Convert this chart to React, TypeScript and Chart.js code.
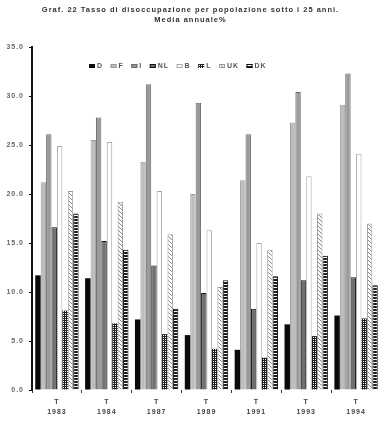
import React, { useEffect, useRef } from "react";
import { Chart, registerables } from "chart.js";

Chart.register(...registerables);

const titleLines = [
  "Graf. 22 Tasso di disoccupazione per popolazione sotto i 25 anni.",
  "Media annuale%",
];
const categories = [
  ["T", "1983"],
  ["T", "1984"],
  ["T", "1987"],
  ["T", "1989"],
  ["T", "1991"],
  ["T", "1993"],
  ["T", "1994"],
];
const seriesNames = ["D", "F", "I", "NL", "B", "L", "UK", "DK"];
const D = [11.7, 11.4, 7.2, 5.6, 4.1, 6.7, 7.6];
const F = [21.2, 25.5, 23.3, 20.0, 21.4, 27.3, 29.1];
const I = [26.1, 27.8, 31.2, 29.3, 26.1, 30.4, 32.3];
const NL = [16.6, 15.2, 12.7, 9.9, 8.3, 11.2, 11.5];
const B = [24.9, 25.3, 20.3, 16.3, 15.0, 21.8, 24.1];
const L = [8.1, 6.8, 5.7, 4.2, 3.3, 5.5, 7.3];
const UK = [20.3, 19.2, 15.9, 10.5, 14.3, 18.0, 17.0];
const DK = [18.0, 14.3, 8.3, 11.2, 11.6, 13.7, 10.7];
const seriesValues = [D, F, I, NL, B, L, UK, DK];
const yMin = 0;
const yMax = 35;
const yStep = 5;

const FONT = '"Liberation Sans", Arial, sans-serif';

function makePattern(
  ctx: CanvasRenderingContext2D,
  w: number,
  h: number,
  draw: (c: CanvasRenderingContext2D) => void
) {
  const tile = document.createElement("canvas");
  tile.width = w;
  tile.height = h;
  const tctx = tile.getContext("2d") as CanvasRenderingContext2D;
  draw(tctx);
  return ctx.createPattern(tile, "repeat") as CanvasPattern;
}

export default function App() {
  const ref = useRef<HTMLCanvasElement | null>(null);

  useEffect(() => {
    document.body.style.margin = "0";
    const canvas = ref.current;
    if (!canvas) return;
    const ctx = canvas.getContext("2d") as CanvasRenderingContext2D;

    const dotPattern = makePattern(ctx, 2, 2, (c) => {
      c.fillStyle = "#1e1e1e";
      c.fillRect(0, 0, 2, 2);
      c.fillStyle = "#ffffff";
      c.fillRect(1, 1, 1, 1);
    });
    const wavePattern = makePattern(ctx, 4, 4, (c) => {
      c.fillStyle = "#ffffff";
      c.fillRect(0, 0, 4, 4);
      c.fillStyle = "#8a8a8a";
      c.fillRect(0, 0, 1, 1);
      c.fillRect(1, 1, 1, 1);
      c.fillRect(2, 2, 1, 1);
      c.fillRect(3, 3, 1, 1);
    });
    const stripePattern = makePattern(ctx, 1, 3, (c) => {
      c.fillStyle = "#1e1e1e";
      c.fillRect(0, 0, 1, 2);
      c.fillStyle = "#ffffff";
      c.fillRect(0, 2, 1, 1);
    });

    const styles = [
      { bg: "#0a0a0a", border: "#0a0a0a", bw: 0 },
      { bg: "#bdbdbd", border: "#9a9a9a", bw: 1 },
      { bg: "#9a9a9a", border: "#6a6a6a", bw: 1 },
      { bg: "#707070", border: "#111111", bw: 1 },
      { bg: "#ffffff", border: "#a8a8a8", bw: 1 },
      { bg: dotPattern, border: "#444444", bw: 0 },
      { bg: wavePattern, border: "#9a9a9a", bw: 1 },
      { bg: stripePattern, border: "#111111", bw: 1 },
    ];

    const spacingPlugin = {
      id: "spacing",
      beforeDraw(chart: any) {
        (chart.ctx as any).letterSpacing = "1px";
      },
    };

    const legendPlugin = {
      id: "customLegend",
      afterDraw(chart: any) {
        const c = chart.ctx as CanvasRenderingContext2D;
        c.save();
        (c as any).letterSpacing = "1px";
        c.font = `bold 7px ${FONT}`;
        c.textBaseline = "middle";
        c.textAlign = "left";
        let x = 89;
        const y = 64;
        chart.data.datasets.forEach((ds: any, i: number) => {
          const st = styles[i];
          c.fillStyle = st.bg as any;
          c.fillRect(x, y, 6, 4);
          if (st.bw > 0) {
            c.strokeStyle = st.border;
            c.lineWidth = 1;
            c.strokeRect(x + 0.5, y + 0.5, 5, 3);
          }
          x += 8;
          c.fillStyle = "#555";
          c.fillText(ds.label, x, y + 2);
          x += c.measureText(ds.label).width + 7.5;
        });
        c.restore();
      },
    };

    const chart = new Chart(canvas, {
      type: "bar",
      data: {
        labels: categories,
        datasets: seriesNames.map((name, i) => ({
          label: name,
          data: seriesValues[i],
          backgroundColor: styles[i].bg as any,
          borderColor: styles[i].border,
          borderWidth: styles[i].bw,
          categoryPercentage: 0.87,
          barPercentage: 1.0,
        })),
      },
      options: {
        responsive: false,
        animation: false,
        devicePixelRatio: 1,
        layout: { padding: { left: 0, right: 0, top: 0, bottom: 0 } },
        plugins: {
          legend: { display: false },
          tooltip: { enabled: false },
          title: {
            display: true,
            text: titleLines,
            color: "#333",
            font: { family: FONT, size: 7.5, weight: "bold", lineHeight: 10 / 7.5 },
            padding: { top: 5, bottom: 22 },
          },
        },
        scales: {
          x: {
            grid: {
              display: true,
              drawOnChartArea: false,
              drawTicks: true,
              tickLength: 3,
              color: "#333",
              offset: true,
            },
            border: { display: false },
            ticks: {
              font: { family: FONT, size: 7, weight: "bold", lineHeight: 1.3 },
              color: "#444",
              padding: 5,
              maxRotation: 0,
              autoSkip: false,
            },
            afterFit: (s: any) => {
              s.height = 31;
            },
          },
          y: {
            min: yMin,
            max: yMax,
            grid: {
              display: true,
              drawOnChartArea: false,
              drawTicks: true,
              tickLength: 3,
              color: "#111",
            },
            border: { display: true, color: "#111", width: 2 },
            ticks: {
              stepSize: yStep,
              callback: (v: any) => Number(v).toFixed(1),
              font: { family: FONT, size: 7, weight: "bold" },
              color: "#666",
              padding: 5,
            },
            afterFit: (s: any) => {
              s.width = 32;
            },
          },
        },
      },
      plugins: [spacingPlugin, legendPlugin],
    });

    return () => chart.destroy();
  }, []);

  return (
    <div style={{ position: "fixed", left: 0, top: 0, width: 381, height: 421, background: "#fff" }}>
      <canvas ref={ref} width={381} height={421} style={{ display: "block", width: 381, height: 421 }} />
    </div>
  );
}
